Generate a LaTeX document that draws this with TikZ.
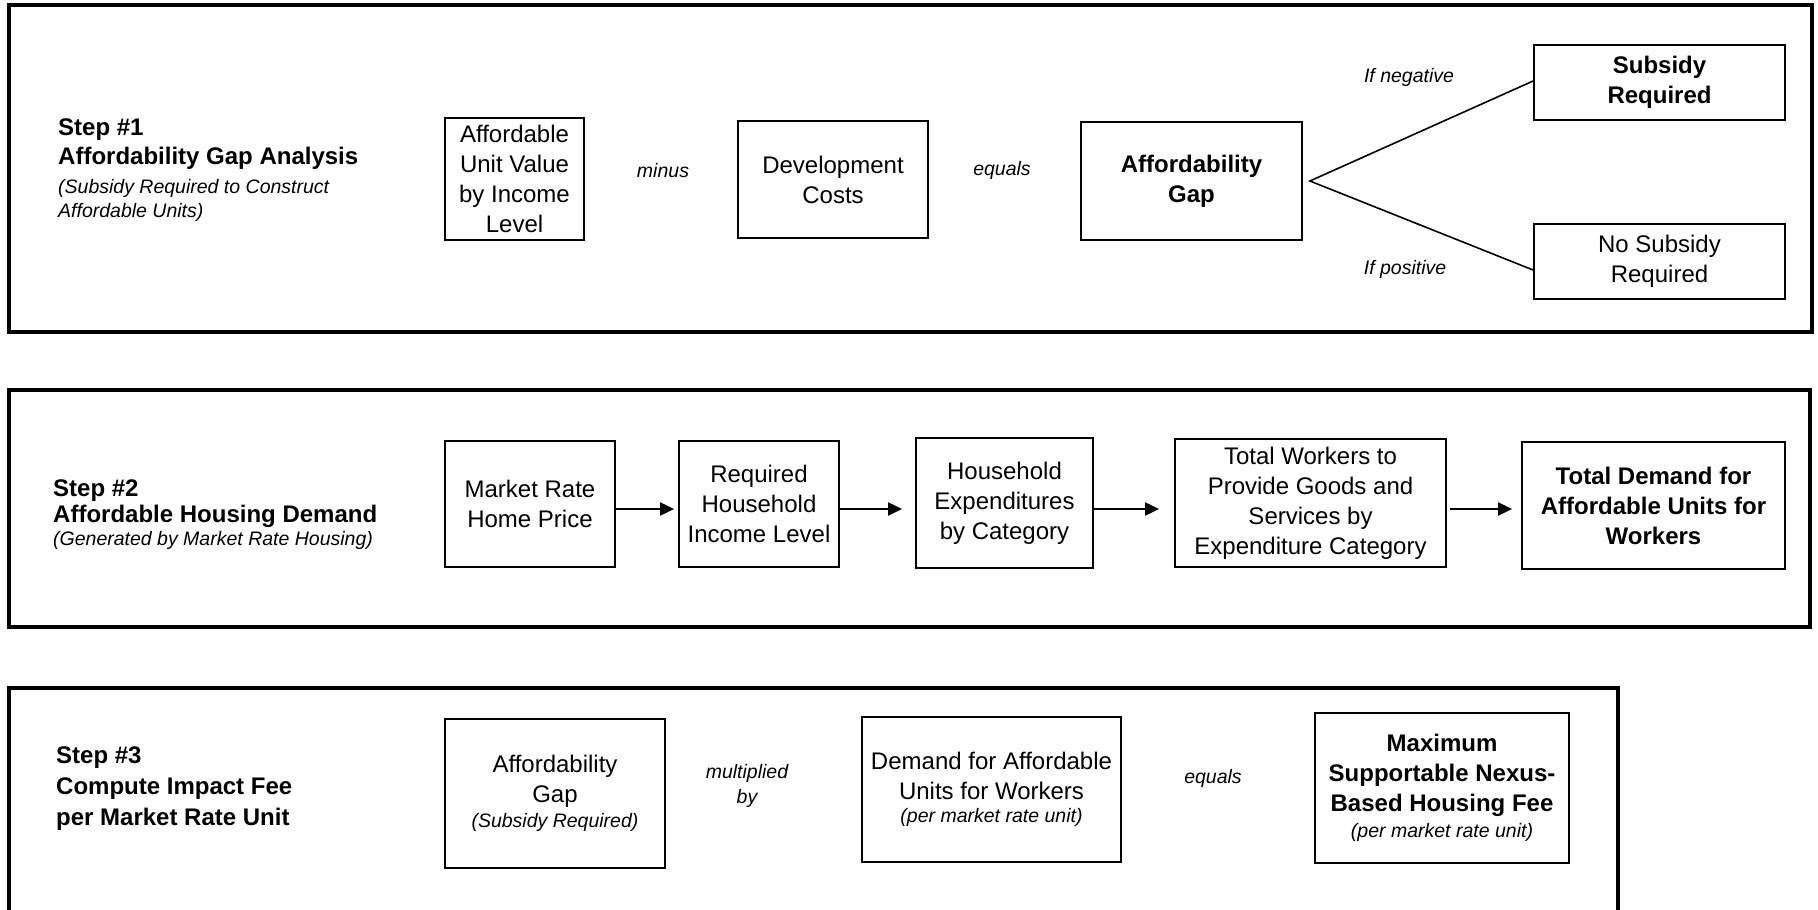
\documentclass[tikz,border=0pt]{standalone}
\usepackage{fontspec}
\setmainfont{Liberation Sans}
\usetikzlibrary{arrows.meta}
\tikzset{
  panel/.style={line width=3.5pt},
  box/.style={draw, line width=1.8pt, align=center, inner sep=0pt, font=\fontsize{24}{30}\selectfont},
  boxb/.style={box, font=\fontsize{24}{30}\selectfont\bfseries},
  oplab/.style={inner sep=0pt, align=center, font=\fontsize{19.5}{25}\selectfont\itshape},
  steptitle/.style={anchor=base west, inner sep=0pt, font=\fontsize{24}{30}\selectfont\bfseries},
  stepsub/.style={anchor=base west, inner sep=0pt, font=\fontsize{19.5}{24}\selectfont\itshape},
  flow/.style={-{Triangle[length=14pt,width=13pt]}, line width=2pt},
  branch/.style={line width=1.6pt}
}
\begin{document}
\begin{tikzpicture}[x=1pt,y=-1pt]
\useasboundingbox (0,0) rectangle (1818,910);
\fill[white] (0,0) rectangle (1818,910);

% ---------- Panel 1 ----------
\draw[panel] (9,5) rectangle (1812,332);
\node[steptitle] (s1a) at (58,135.6) {Step \#1};
\node[steptitle] (s1b) at (58,164.6) {Affordability Gap Analysis};
\node[stepsub] (s1c) at (58,193) {(Subsidy Required to Construct};
\node[stepsub] (s1d) at (58,217) {Affordable Units)};

\node[box, minimum width=139pt, minimum height=122pt] (auv) at (514.5,179) {Affordable\\Unit Value\\by Income\\Level};
\node[oplab] (minus) at (663,171) {minus};
\node[box, minimum width=190pt, minimum height=117pt] (dev) at (833,179.5) {Development\\Costs};
\node[oplab] (eq1) at (1002,170) {equals};
\node[boxb, minimum width=221pt, minimum height=118pt] (gap) at (1191.5,181) {Affordability\\Gap};
\node[boxb, minimum width=251pt, minimum height=75pt] (sub) at (1659.5,82.5) {Subsidy\\Required};
\node[box, minimum width=251pt, minimum height=75pt] (nosub) at (1659.5,261.5) {No Subsidy\\Required};
\coordinate (br) at ([xshift=7pt]gap.east);
\draw[branch] ([yshift=1.5pt]sub.west) -- (br) -- ([yshift=-8.5pt]nosub.west);
\node[oplab] (neg) at (1409,77) {If negative};
\node[oplab] (pos) at (1405,269) {If positive};

% ---------- Panel 2 ----------
\draw[panel] (9,390) rectangle (1810,627);
\node[steptitle] (s2a) at (53,496.6) {Step \#2};
\node[steptitle] (s2b) at (53,522.6) {Affordable Housing Demand};
\node[stepsub] (s2c) at (53,545) {(Generated by Market Rate Housing)};

\node[box, minimum width=170pt, minimum height=126pt] (mrh) at (530,504) {Market Rate\\Home Price};
\node[box, minimum width=160pt, minimum height=126pt] (rhi) at (759,504) {Required\\Household\\Income Level};
\node[box, minimum width=177pt, minimum height=130pt] (hec) at (1004.5,503) {Household\\Expenditures\\by Category};
\node[box, minimum width=271pt, minimum height=128pt] (tw) at (1310.5,503) {Total Workers to\\Provide Goods and\\Services by\\Expenditure Category};
\node[boxb, minimum width=263pt, minimum height=127pt] (td) at (1653.5,505.5) {Total Demand for\\Affordable Units for\\Workers};

\draw[flow, shorten >=4pt] (mrh.east |- 0,509) -- (rhi.west |- 0,509);
\draw[flow, shorten >=13pt] (rhi.east |- 0,509) -- (hec.west |- 0,509);
\draw[flow, shorten >=15pt] (hec.east |- 0,509) -- (tw.west |- 0,509);
\draw[flow, shorten >=9pt, shorten <=3pt] (tw.east |- 0,509) -- (td.west |- 0,509);

% ---------- Panel 3 ----------
\draw[panel] (9,940) -- (9,688) -- (1618,688) -- (1618,940);
\node[steptitle] (s3a) at (56,763.6) {Step \#3};
\node[steptitle] (s3b) at (56,794.6) {Compute Impact Fee};
\node[steptitle] (s3c) at (56,825.6) {per Market Rate Unit};

\node[box, minimum width=220pt, minimum height=149pt] (ag3) at (555,793.5) {Affordability\\Gap\\[-5.6pt]{\fontsize{19.5}{24}\selectfont\itshape (Subsidy Required)}};
\node[oplab] (mult) at (747,786) {multiplied\\by};
\node[box, minimum width=259pt, minimum height=145pt] (dem) at (991.5,789.5) {Demand for Affordable\\Units for Workers\\[-6.6pt]{\fontsize{19.5}{24}\selectfont\itshape (per market rate unit)}};
\node[oplab] (eq3) at (1213,778) {equals};
\node[boxb, minimum width=254pt, minimum height=150pt] (max) at (1442,788) {Maximum\\Supportable Nexus-\\Based Housing Fee\\[-3.6pt]{\fontsize{19.5}{24}\selectfont\mdseries\itshape (per market rate unit)}};
\end{tikzpicture}
\end{document}
